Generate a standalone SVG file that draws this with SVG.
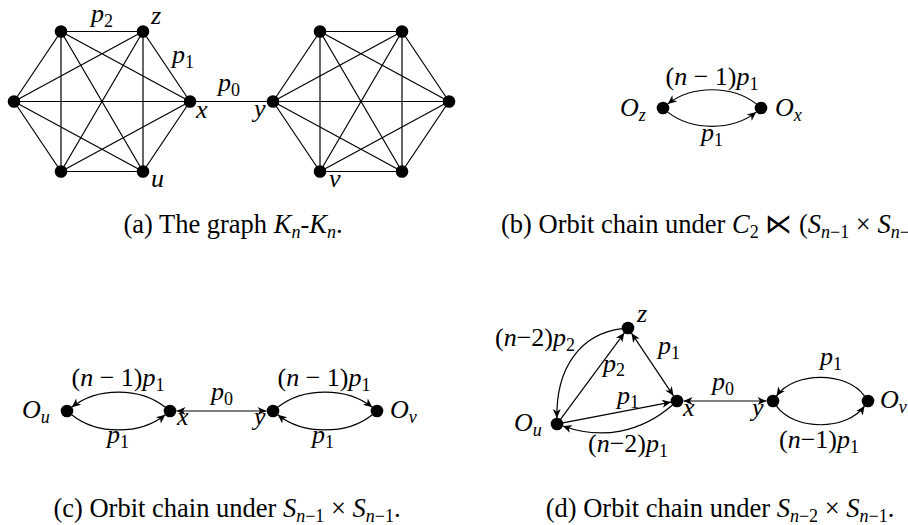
<svg xmlns="http://www.w3.org/2000/svg" width="908" height="525" viewBox="0 0 908 525">
<style>
.e{fill:none;stroke:#000;stroke-width:1.2}
.a{marker-end:url(#ah)}
.d{marker-start:url(#ah);marker-end:url(#ah)}
.dot{fill:#000}
.m{font-family:"Liberation Serif","DejaVu Serif",serif;font-size:26px;font-style:italic;fill:#000}
.r{font-style:normal}
.s{font-size:18px;font-style:normal}
.si{font-size:18px;font-style:italic}
.cap{font-family:"Liberation Serif","DejaVu Serif",serif;font-size:26.5px;fill:#000}
.ci{font-style:italic}
</style>
<defs>
<marker id="ah" viewBox="-10 -5 12 10" refX="0" refY="0" markerWidth="12" markerHeight="10" markerUnits="userSpaceOnUse" orient="auto-start-reverse">
<path d="M0,0 L-9,-4 L-6.5,0 L-9,4 Z" fill="#000"/>
</marker>
</defs>
<rect width="908" height="525" fill="#fff"/>

<!-- connectors -->
<g id="connectors">
<path id="e-a-left" class="e" d="M61,31.5 L143,31.5 M61,31.5 L190,101.5 M61,31.5 L143,171.5 M61,31.5 L61,171.5 M61,31.5 L14,101.5 M143,31.5 L190,101.5 M143,31.5 L143,171.5 M143,31.5 L61,171.5 M143,31.5 L14,101.5 M190,101.5 L143,171.5 M190,101.5 L61,171.5 M190,101.5 L14,101.5 M143,171.5 L61,171.5 M143,171.5 L14,101.5 M61,171.5 L14,101.5"/>
<path id="e-a-right" class="e" d="M273,101.5 L320,31.5 M273,101.5 L402,31.5 M273,101.5 L449,101.5 M273,101.5 L402,171.5 M273,101.5 L320,171.5 M320,31.5 L402,31.5 M320,31.5 L449,101.5 M320,31.5 L402,171.5 M320,31.5 L320,171.5 M402,31.5 L449,101.5 M402,31.5 L402,171.5 M402,31.5 L320,171.5 M449,101.5 L402,171.5 M449,101.5 L320,171.5 M402,171.5 L320,171.5"/>
<path id="e-a-xy" class="e" d="M190,101.5 L273,101.5"/>

<path id="e-b-top" class="e a" d="M756.3,103.9 C732,85 692,85 667.7,103.9"/>
<path id="e-b-bot" class="e a" d="M667.7,112.1 C692,131 732,131 756.3,112.1"/>

<path id="e-c-1" class="e a" d="M165.3,407.3 C140,387 97,387 71.7,407.3"/>
<path id="e-c-2" class="e a" d="M71.7,414.7 C97,435 140,435 165.3,414.7"/>
<path id="e-c-3" class="e d" d="M176.5,411 L266.5,411"/>
<path id="e-c-4" class="e a" d="M277.7,407.3 C303,387 347,387 372.3,407.3"/>
<path id="e-c-5" class="e a" d="M372.3,414.7 C347,435 303,435 277.7,414.7"/>

<path id="e-d-zx" class="e d" d="M631.5,333.2 L673.5,395.8"/>
<path id="e-d-uz" class="e a" d="M560.6,419.2 L624.4,332.8"/>
<path id="e-d-zu" class="e a" d="M622,328.7 C580,334 556,368 556.9,418"/>
<path id="e-d-ux" class="e a" d="M562.9,422.9 L671.1,402.1"/>
<path id="e-d-xu" class="e a" d="M672.5,405 C641,432.5 602,440 562.7,426"/>
<path id="e-d-xy" class="e d" d="M683.5,401 L766.5,401"/>
<path id="e-d-vy" class="e a" d="M864.6,396.1 C847,371 794,371 776.4,396.1"/>
<path id="e-d-yv" class="e a" d="M776.4,405.9 C794,431 847,431 864.6,405.9"/>
</g>

<!-- edge labels -->
<g id="edge-labels" class="m">
<text x="102" y="22" text-anchor="middle">p<tspan class="s" dy="5">2</tspan></text>
<text x="183" y="63" text-anchor="middle">p<tspan class="s" dy="5">1</tspan></text>
<text x="229" y="91" text-anchor="middle">p<tspan class="s" dy="5">0</tspan></text>

<text x="712" y="85" text-anchor="middle"><tspan class="r">(</tspan>n<tspan class="r"> − 1)</tspan>p<tspan class="s" dy="5">1</tspan></text>
<text x="712" y="141" text-anchor="middle">p<tspan class="s" dy="5">1</tspan></text>

<text x="118" y="386" text-anchor="middle"><tspan class="r">(</tspan>n<tspan class="r"> − 1)</tspan>p<tspan class="s" dy="5">1</tspan></text>
<text x="118" y="443" text-anchor="middle">p<tspan class="s" dy="5">1</tspan></text>
<text x="222" y="400" text-anchor="middle">p<tspan class="s" dy="5">0</tspan></text>
<text x="324" y="386" text-anchor="middle"><tspan class="r">(</tspan>n<tspan class="r"> − 1)</tspan>p<tspan class="s" dy="5">1</tspan></text>
<text x="323" y="443" text-anchor="middle">p<tspan class="s" dy="5">1</tspan></text>

<text x="535" y="346" text-anchor="middle"><tspan class="r">(</tspan>n<tspan class="r">−2)</tspan>p<tspan class="s" dy="5">2</tspan></text>
<text x="669" y="354" text-anchor="middle">p<tspan class="s" dy="5">1</tspan></text>
<text x="614" y="372" text-anchor="middle">p<tspan class="s" dy="4">2</tspan></text>
<text x="628" y="404" text-anchor="middle">p<tspan class="s" dy="4">1</tspan></text>
<text x="723" y="390" text-anchor="middle">p<tspan class="s" dy="5">0</tspan></text>
<text x="831" y="365" text-anchor="middle">p<tspan class="s" dy="5">1</tspan></text>
<text x="819" y="448" text-anchor="middle"><tspan class="r">(</tspan>n<tspan class="r">−1)</tspan>p<tspan class="s" dy="5">1</tspan></text>
<text x="628" y="452" text-anchor="middle"><tspan class="r">(</tspan>n<tspan class="r">−2)</tspan>p<tspan class="s" dy="5">1</tspan></text>
</g>

<!-- nodes (a) -->
<g id="a-n1"><circle class="dot" cx="61" cy="31.5" r="6.3"/></g>
<g id="a-z"><circle class="dot" cx="143" cy="31.5" r="6.3"/><text class="m" x="151" y="24">z</text></g>
<g id="a-x"><circle class="dot" cx="190" cy="101.5" r="6.3"/><text class="m" x="196" y="118">x</text></g>
<g id="a-u"><circle class="dot" cx="143" cy="171.5" r="6.3"/><text class="m" x="151" y="187">u</text></g>
<g id="a-n5"><circle class="dot" cx="61" cy="171.5" r="6.3"/></g>
<g id="a-n6"><circle class="dot" cx="14" cy="101.5" r="6.3"/></g>
<g id="a-y"><circle class="dot" cx="273" cy="101.5" r="6.3"/><text class="m" x="254" y="117">y</text></g>
<g id="a-m2"><circle class="dot" cx="320" cy="31.5" r="6.3"/></g>
<g id="a-m3"><circle class="dot" cx="402" cy="31.5" r="6.3"/></g>
<g id="a-m4"><circle class="dot" cx="449" cy="101.5" r="6.3"/></g>
<g id="a-m5"><circle class="dot" cx="402" cy="171.5" r="6.3"/></g>
<g id="a-v"><circle class="dot" cx="320" cy="171.5" r="6.3"/><text class="m" x="329" y="187">v</text></g>

<!-- nodes (b) -->
<g id="b-Oz"><circle class="dot" cx="663" cy="108" r="6.3"/><text class="m" x="620" y="116">O<tspan class="si" dy="5">z</tspan></text></g>
<g id="b-Ox"><circle class="dot" cx="761" cy="108" r="6.3"/><text class="m" x="775" y="116">O<tspan class="si" dy="5">x</tspan></text></g>

<!-- nodes (c) -->
<g id="c-Ou"><circle class="dot" cx="67" cy="411" r="6.3"/><text class="m" x="22" y="418">O<tspan class="si" dy="5">u</tspan></text></g>
<g id="c-x"><circle class="dot" cx="170" cy="411" r="6.3"/><text class="m" x="177" y="425">x</text></g>
<g id="c-y"><circle class="dot" cx="273" cy="411" r="6.3"/><text class="m" x="254" y="425">y</text></g>
<g id="c-Ov"><circle class="dot" cx="377" cy="411" r="6.3"/><text class="m" x="390" y="418">O<tspan class="si" dy="5">v</tspan></text></g>

<!-- nodes (d) -->
<g id="d-z"><circle class="dot" cx="628" cy="328" r="6.3"/><text class="m" x="637" y="322">z</text></g>
<g id="d-x"><circle class="dot" cx="677" cy="401" r="6.3"/><text class="m" x="683" y="416">x</text></g>
<g id="d-y"><circle class="dot" cx="773" cy="401" r="6.3"/><text class="m" x="752" y="416">y</text></g>
<g id="d-Ov"><circle class="dot" cx="868" cy="401" r="6.3"/><text class="m" x="880" y="408">O<tspan class="si" dy="5">v</tspan></text></g>
<g id="d-Ou"><circle class="dot" cx="557" cy="424" r="6.3"/><text class="m" x="514" y="431">O<tspan class="si" dy="5">u</tspan></text></g>

<!-- captions -->
<g id="captions" class="cap">
<text x="233" y="233" text-anchor="middle">(a) The graph <tspan class="ci">K</tspan><tspan class="si" dy="5">n</tspan><tspan dy="-5">-</tspan><tspan class="ci">K</tspan><tspan class="si" dy="5">n</tspan><tspan dy="-5">.</tspan></text>
<text x="501" y="233">(b) Orbit chain under <tspan class="ci">C</tspan><tspan class="s" dy="5">2</tspan><tspan dy="-5"> ⋉ (</tspan><tspan class="ci">S</tspan><tspan class="s" dy="5"><tspan class="si">n</tspan>−1</tspan><tspan dy="-5"> × </tspan><tspan class="ci">S</tspan><tspan class="s" dy="5"><tspan class="si">n</tspan>−</tspan></text>
<text x="227" y="517" text-anchor="middle">(c) Orbit chain under <tspan class="ci">S</tspan><tspan class="s" dy="5"><tspan class="si">n</tspan>−1</tspan><tspan dy="-5"> × </tspan><tspan class="ci">S</tspan><tspan class="s" dy="5"><tspan class="si">n</tspan>−1</tspan><tspan dy="-5">.</tspan></text>
<text x="720" y="517" text-anchor="middle">(d) Orbit chain under <tspan class="ci">S</tspan><tspan class="s" dy="5"><tspan class="si">n</tspan>−2</tspan><tspan dy="-5"> × </tspan><tspan class="ci">S</tspan><tspan class="s" dy="5"><tspan class="si">n</tspan>−1</tspan><tspan dy="-5">.</tspan></text>
</g>
</svg>
